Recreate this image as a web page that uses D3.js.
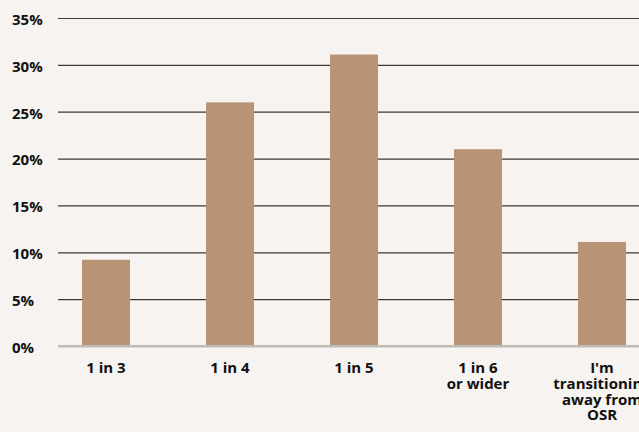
<!DOCTYPE html>
<html>
<head>
<meta charset="utf-8">
<script src="https://cdn.jsdelivr.net/npm/d3@7"></script>
<style>
  html, body { margin: 0; padding: 0; background: #f6f3f0; }
  svg { display: block; }
  text { font-family: "Open Sans", Lato, sans-serif; font-weight: 700; fill: #111; }
</style>
</head>
<body>
<svg id="chart" width="639" height="432"></svg>
<script>
const categories = ["1 in 3", "1 in 4", "1 in 5", "1 in 6\nor wider", "I'm\ntransitioning\naway from\nOSR"];
const values = [9.2, 26, 31.1, 21, 11.1];
const yTicks = [0, 5, 10, 15, 20, 25, 30, 35];
const yTickLabels = ["0%", "5%", "10%", "15%", "20%", "25%", "30%", "35%"];

const W = 639, H = 432;
const svg = d3.select("#chart");

const y = d3.scaleLinear().domain([0, 35]).range([346, 18]);
const x = d3.scaleBand().domain(categories).range([44, 664])
  .paddingInner(0.613).paddingOuter(0.3065);

const gridLeft = 58;

// y axis gridlines + labels
const yAxis = d3.axisLeft(y)
  .tickValues(yTicks)
  .tickSize(-(W - gridLeft))
  .tickFormat((d, i) => yTickLabels[i]);

const gy = svg.append("g")
  .attr("transform", `translate(${gridLeft},0)`)
  .call(yAxis);
gy.select(".domain").remove();
gy.selectAll(".tick line")
  .attr("stroke", d => d === 0 ? "#bdbbb8" : "#3a3a3a")
  .attr("stroke-width", d => d === 0 ? 2 : 1.2);
gy.selectAll(".tick text")
  .attr("x", 12 - gridLeft)
  .attr("dy", "0.42em")
  .attr("text-anchor", "start")
  .style("font-size", "15px")
  .style("fill", "#111");

// bars
svg.append("g").selectAll("rect")
  .data(values)
  .join("rect")
  .attr("x", (d, i) => x(categories[i]))
  .attr("width", x.bandwidth())
  .attr("y", d => y(d))
  .attr("height", d => y(0) - y(d))
  .attr("fill", "#b89474");

// redraw baseline on top of bars
svg.append("line")
  .attr("x1", gridLeft).attr("x2", W)
  .attr("y1", y(0)).attr("y2", y(0))
  .attr("stroke", "#bdbbb8").attr("stroke-width", 2);

// x axis labels
const xAxis = d3.axisBottom(x).tickSize(0).tickFormat("");
const gx = svg.append("g")
  .attr("transform", `translate(0,${y(0)})`)
  .call(xAxis);
gx.select(".domain").remove();
gx.selectAll(".tick").each(function(d) {
  const lines = d.split("\n");
  const t = d3.select(this).append("text")
    .attr("text-anchor", "middle")
    .attr("y", 27)
    .style("font-size", "15px")
    .style("fill", "#111");
  lines.forEach((ln, i) => {
    t.append("tspan").attr("x", 0).attr("dy", i === 0 ? 0 : 15.8).text(ln);
  });
});
</script>
</body>
</html>
